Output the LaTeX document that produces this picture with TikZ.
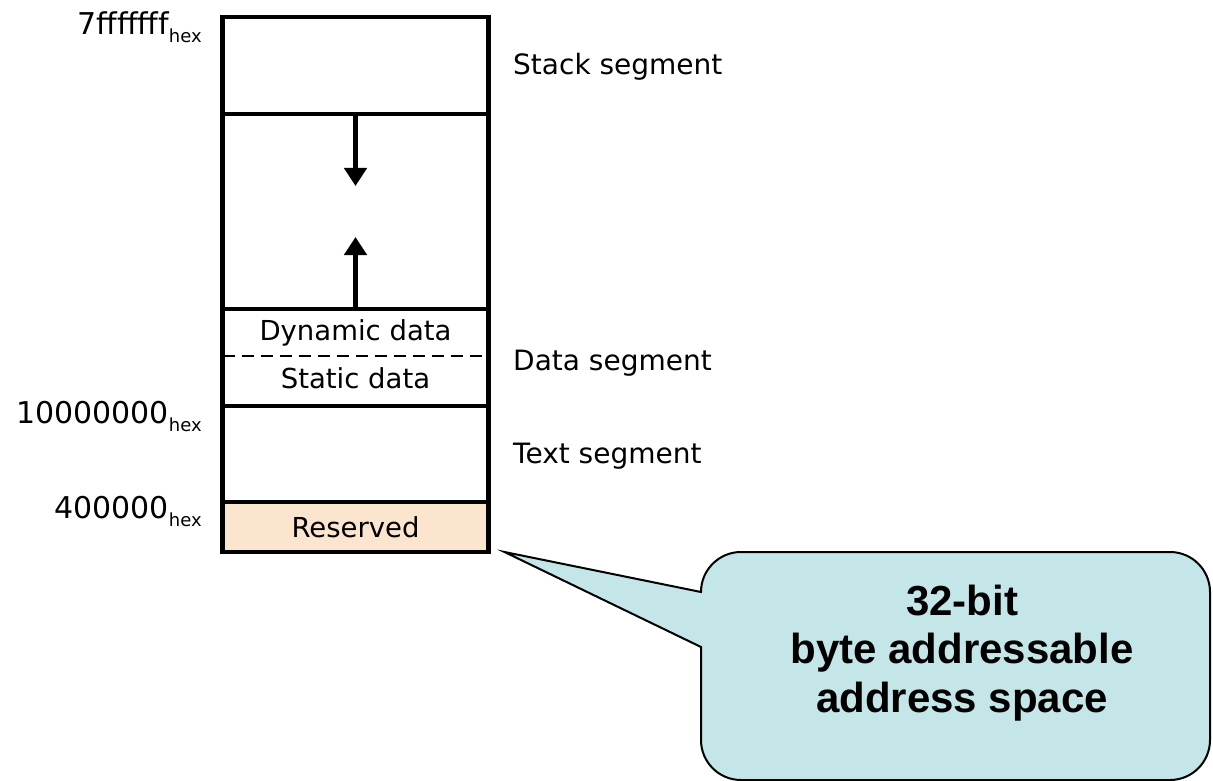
\documentclass[tikz,border=0pt]{standalone}
\usepackage{fontspec}
\setmainfont{DejaVu Sans}
\newfontfamily\noteface{Liberation Sans}
\usetikzlibrary{arrows.meta}
\definecolor{reservedfill}{RGB}{252,229,206}
\definecolor{notefill}{RGB}{197,230,232}
\newcommand{\hexsub}{\raisebox{-8pt}{\fontsize{18}{18}\selectfont hex}}

\begin{document}
\begin{tikzpicture}[x=1pt,y=-1pt,
  seg/.style={draw, line width=4.5pt, minimum width=266pt, inner sep=0pt,
    outer sep=0pt, font=\fontsize{27.5}{32}\selectfont},
  inlbl/.style={anchor=base, inner sep=0pt, font=\fontsize{27.5}{32}\selectfont},
  lbl/.style={anchor=base west, inner sep=0pt, font=\fontsize{28}{32}\selectfont},
  addr/.style={anchor=base east, inner sep=0pt, font=\fontsize{30}{32}\selectfont},
  growarrow/.style={line width=4.5pt, -{Triangle[width=22pt,length=18pt]}},
  divider/.style={line width=2pt, dash pattern=on 12pt off 7pt},
  bubble/.style={draw, line width=2pt, fill=notefill, line join=miter},
  notetext/.style={align=center, anchor=base, inner sep=0pt,
    font={\fontsize{42}{48.5}\noteface\bfseries}},
]
\useasboundingbox (0,0) rectangle (1213,781);

% memory map column
\node[seg, minimum height=97pt]  (stack) at (355.5,65.5) {};
\node[seg, minimum height=195pt] (heap)  at (355.5,211.5) {};
\node[seg, minimum height=97pt]  (data)  at (355.5,357.5) {};
\node[seg, minimum height=96pt]  (text)  at (355.5,454) {};
\node[seg, fill=reservedfill, minimum height=50pt] (reserved) at (355.5,527) {Reserved};

% data segment contents
\node[inlbl] (dyn)  at (355.5,340) {Dynamic data};
\node[inlbl] (stat) at (355.5,388) {Static data};
\draw[divider] ([yshift=2pt]data.west) -- ([yshift=2pt]data.east);

% stack grows down, heap grows up
\coordinate (downtip) at (355.5,186);
\coordinate (uptip)   at (355.5,237);
\draw[growarrow] (stack.south) -- (downtip);
\draw[growarrow] (heap.south) -- (uptip);

% segment names
\node[lbl] (stacklbl) at (513,75)  {Stack segment};
\node[lbl] (datalbl)  at (513,370) {Data segment};
\node[lbl] (textlbl)  at (513,463) {Text segment};

% addresses
\node[addr] (atop)  at (202,35)  {7fffffff\hexsub};
\node[addr] (adata) at (202,423) {10000000\hexsub};
\node[addr] (atext) at (202,518) {400000\hexsub};

% callout
\coordinate (ptr) at ([xshift=16pt]reserved.south east);
\draw[bubble] (ptr) -- (701,647) -- (701,740)
  arc[start angle=180, end angle=90, radius=40] -- (1170,780)
  arc[start angle=90, end angle=0, radius=40] -- (1210,592)
  arc[start angle=0, end angle=-90, radius=40] -- (741,552)
  arc[start angle=-90, end angle=-180, radius=40] -- cycle;
\node[notetext] (note) at (962,712) {32-bit\\byte addressable\\address space};
\end{tikzpicture}
\end{document}
